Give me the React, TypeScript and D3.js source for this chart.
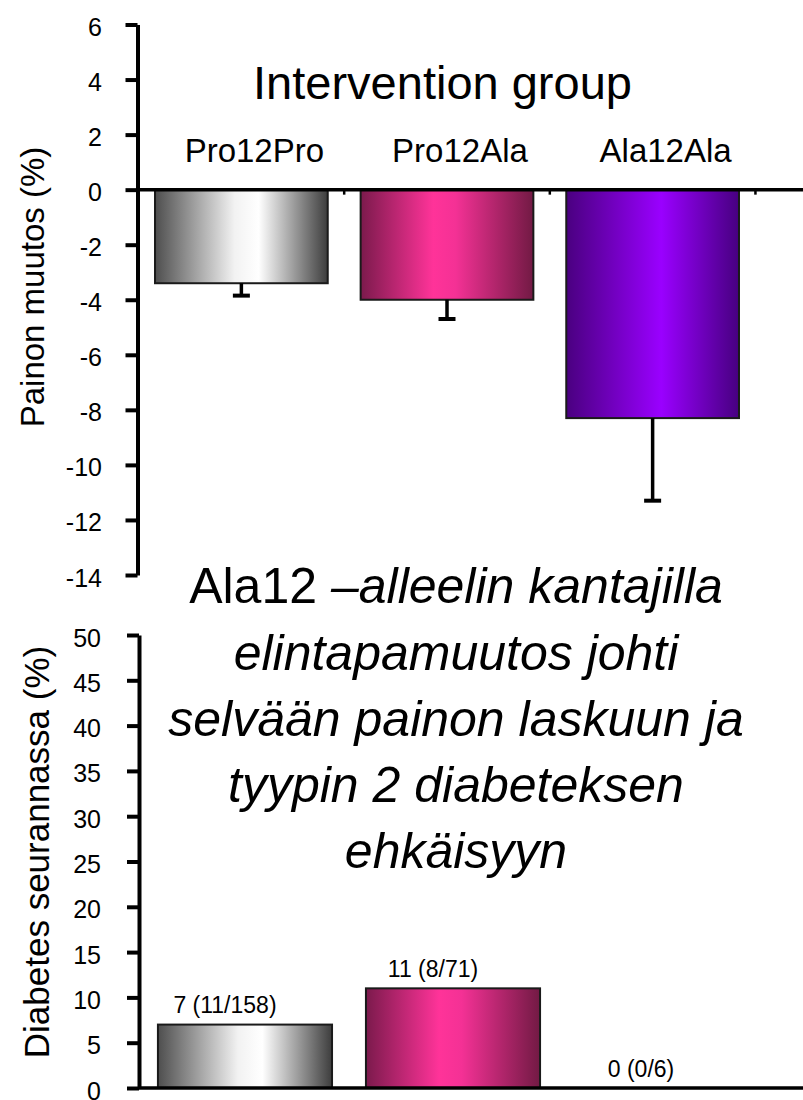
import { useRef, useEffect } from "react";
import * as d3 from "d3";

const genotypes = ["Pro12Pro", "Pro12Ala", "Ala12Ala"];
const weightChange = [-3.4, -4.0, -8.3];
const weightSE = [0.45, 0.7, 3.0];
const topTicks = [6, 4, 2, 0, -2, -4, -6, -8, -10, -12, -14];

const diabetesPct = [7, 11, 0];
const diabetesLabels = ["7 (11/158)", "11 (8/71)", "0 (0/6)"];
const bottomTicks = [0, 5, 10, 15, 20, 25, 30, 35, 40, 45, 50];

const titleLines = [
  "elintapamuutos johti",
  "selvään painon laskuun ja",
  "tyypin 2 diabeteksen",
  "ehkäisyyn",
];

const gradients = [
  { id: "g-gray", stops: [[0, "#4e4e4e"], [0.46, "#f2f2f2"], [0.6, "#ffffff"], [1, "#3d3d3d"]] },
  { id: "g-pink", stops: [[0, "#7b1a4c"], [0.42, "#ff3399"], [0.55, "#f43195"], [1, "#721a44"]] },
  { id: "g-purple", stops: [[0, "#4a0080"], [0.55, "#9a00ff"], [1, "#470080"]] },
];

const FONT = "'Liberation Sans', Arial, sans-serif";

export default function App() {
  const svgRef = useRef<SVGSVGElement>(null);
  const width = 803;
  const height = 1100;

  useEffect(() => {
    if (!svgRef.current) return;
    const svg = d3.select(svgRef.current);
    svg.selectAll("*").remove();

    // gradients for the bars
    const defs = svg.append("defs");
    gradients.forEach((g) => {
      const lg = defs.append("linearGradient").attr("id", g.id).attr("x1", 0).attr("x2", 1).attr("y1", 0).attr("y2", 0);
      g.stops.forEach(([o, c]) => lg.append("stop").attr("offset", o as number).attr("stop-color", c as string));
    });

    // ---------- top chart: weight change ----------
    const yTop = d3.scaleLinear().domain([-14, 6]).range([575, 24.5]);
    const xTop = d3
      .scaleBand<string>()
      .domain(genotypes)
      .range([137, 757])
      .paddingInner(0.16)
      .paddingOuter(0.0876);

    const gyTop = svg
      .append("g")
      .attr("transform", "translate(137.5,0)")
      .call(d3.axisLeft(yTop).tickValues(topTicks).tickSize(12).tickSizeOuter(0).tickFormat((d) => String(d)))
      .attr("font-family", FONT)
      .attr("font-size", 25);
    gyTop.select(".domain").attr("stroke", "#000").attr("stroke-width", 4);
    gyTop.selectAll(".tick line").attr("stroke", "#000").attr("stroke-width", 4);
    gyTop.selectAll(".tick text").attr("x", -35.5).attr("dy", "0.44em").attr("fill", "#000");

    const step = xTop.step();
    const y0 = yTop(0);

    svg
      .selectAll(".bar-top")
      .data(genotypes)
      .enter()
      .append("rect")
      .attr("x", (d) => xTop(d) as number)
      .attr("y", y0)
      .attr("width", xTop.bandwidth())
      .attr("height", (_, i) => yTop(weightChange[i]) - y0)
      .attr("fill", (_, i) => `url(#${gradients[i].id})`)
      .attr("stroke", "#1a1a1a")
      .attr("stroke-width", 2);

    // error bars
    genotypes.forEach((g, i) => {
      const cx = (xTop(g) as number) + xTop.bandwidth() / 2;
      const low = yTop(weightChange[i] - weightSE[i]);
      svg.append("line").attr("x1", cx).attr("x2", cx).attr("y1", yTop(weightChange[i])).attr("y2", low)
        .attr("stroke", "#000").attr("stroke-width", 3.5);
      svg.append("line").attr("x1", cx - 8.5).attr("x2", cx + 8.5).attr("y1", low).attr("y2", low)
        .attr("stroke", "#000").attr("stroke-width", 4);
      // small category tick between bars
      const tx = (xTop(g) as number) + xTop.bandwidth() + (step * 0.16) / 2;
      svg.append("line").attr("x1", tx).attr("x2", tx).attr("y1", y0).attr("y2", y0 + 5)
        .attr("stroke", "#000").attr("stroke-width", 2.5);
    });

    // zero line
    svg.append("line").attr("x1", 137).attr("x2", width).attr("y1", y0).attr("y2", y0)
      .attr("stroke", "#000").attr("stroke-width", 3.5);

    // category labels and group title
    svg
      .selectAll(".cat-top")
      .data(genotypes)
      .enter()
      .append("text")
      .attr("x", (d) => (xTop(d) as number) + xTop.bandwidth() / 2 + 13)
      .attr("y", 162)
      .attr("text-anchor", "middle")
      .attr("font-family", FONT)
      .attr("font-size", 33)
      .text((d) => d);

    svg.append("text").attr("x", 442.5).attr("y", 99).attr("text-anchor", "middle")
      .attr("font-family", FONT).attr("font-size", 47).text("Intervention group");

    svg.append("text").attr("transform", "translate(44,287) rotate(-90)").attr("text-anchor", "middle")
      .attr("font-family", FONT).attr("font-size", 33).text("Painon muutos (%)");

    // ---------- bottom chart: diabetes incidence ----------
    const yBot = d3.scaleLinear().domain([0, 50]).range([1088, 635]);
    const xBot = d3
      .scaleBand<string>()
      .domain(genotypes)
      .range([139, 767])
      .paddingInner(0.163)
      .paddingOuter(0.091);

    const gyBot = svg
      .append("g")
      .attr("transform", "translate(139,0)")
      .call(d3.axisLeft(yBot).tickValues(bottomTicks).tickSize(12).tickSizeOuter(0).tickFormat((d) => String(d)))
      .attr("font-family", FONT)
      .attr("font-size", 25);
    gyBot.select(".domain").attr("stroke", "#000").attr("stroke-width", 4);
    gyBot.selectAll(".tick line").attr("stroke", "#000").attr("stroke-width", 4);
    gyBot.selectAll(".tick text").attr("x", -38).attr("dy", "0.44em").attr("fill", "#000");

    svg
      .selectAll(".bar-bot")
      .data(genotypes.filter((_, i) => diabetesPct[i] > 0))
      .enter()
      .append("rect")
      .attr("x", (d) => xBot(d) as number)
      .attr("y", (d) => yBot(diabetesPct[genotypes.indexOf(d)]))
      .attr("width", xBot.bandwidth())
      .attr("height", (d) => yBot(0) - yBot(diabetesPct[genotypes.indexOf(d)]))
      .attr("fill", (d) => `url(#${gradients[genotypes.indexOf(d)].id})`)
      .attr("stroke", "#1a1a1a")
      .attr("stroke-width", 2);

    svg.append("line").attr("x1", 139).attr("x2", width).attr("y1", yBot(0)).attr("y2", yBot(0))
      .attr("stroke", "#000").attr("stroke-width", 3.5);

    svg
      .selectAll(".val-bot")
      .data(genotypes)
      .enter()
      .append("text")
      .attr("x", (d) => (xBot(d) as number) + xBot.bandwidth() / 2 - 20)
      .attr("y", (_, i) => yBot(diabetesPct[i]) - 11.5)
      .attr("text-anchor", "middle")
      .attr("font-family", FONT)
      .attr("font-size", 23)
      .text((_, i) => diabetesLabels[i]);

    svg.append("text").attr("transform", "translate(49,852) rotate(-90)").attr("text-anchor", "middle")
      .attr("font-family", FONT).attr("font-size", 35).text("Diabetes seurannassa (%)");

    // ---------- italic message in the middle ----------
    const msg = svg.append("text").attr("font-family", FONT).attr("font-size", 50).attr("text-anchor", "middle");
    const first = msg.append("tspan").attr("x", 456).attr("y", 603);
    first.append("tspan").text("Ala12 ");
    first.append("tspan").attr("font-style", "italic").text("–alleelin kantajilla");
    titleLines.forEach((line, i) => {
      msg.append("tspan").attr("x", 456).attr("y", 670 + i * 66).attr("font-style", "italic").text(line);
    });
  }, []);

  return (
    <div style={{ position: "absolute", left: 0, top: 0 }}>
      <svg ref={svgRef} width={width} height={height} viewBox={`0 0 ${width} ${height}`} style={{ display: "block", background: "#fff" }} />
    </div>
  );
}
